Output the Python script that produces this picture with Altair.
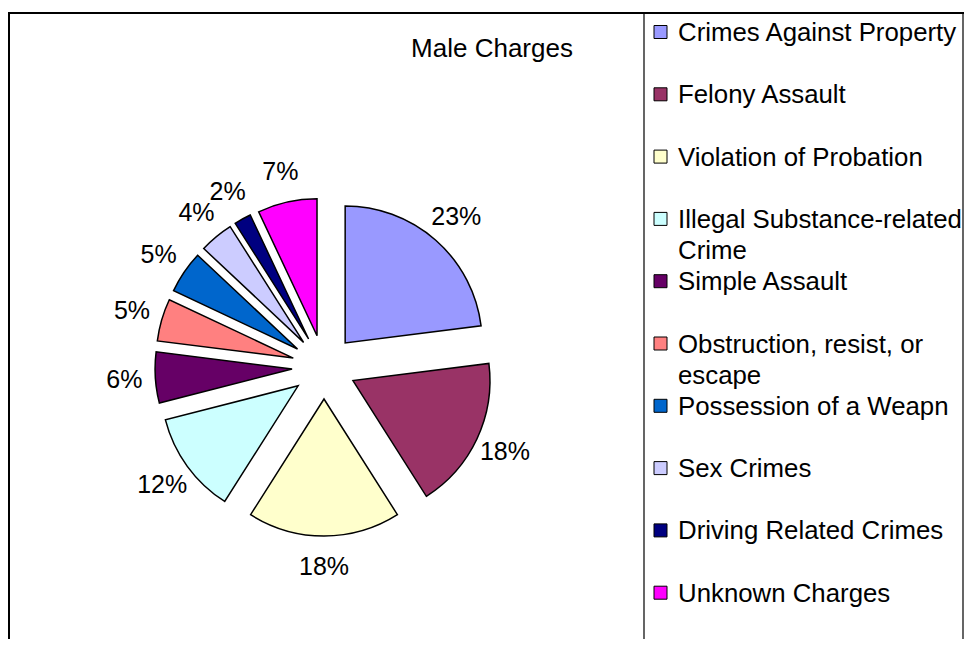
import altair as alt
import pandas as pd

# ---- data ----
categories = [
    "Crimes Against Property",
    "Felony Assault",
    "Violation of Probation",
    "Illegal Substance-related Crime",
    "Simple Assault",
    "Obstruction, resist, or escape",
    "Possession of a Weapn",
    "Sex Crimes",
    "Driving Related Crimes",
    "Unknown Charges",
]
legend_labels = [
    "Crimes Against Property",
    "Felony Assault",
    "Violation of Probation",
    "Illegal Substance-related\nCrime",
    "Simple Assault",
    "Obstruction, resist, or\nescape",
    "Possession of a Weapn",
    "Sex Crimes",
    "Driving Related Crimes",
    "Unknown Charges",
]
values = [23, 18, 18, 12, 6, 5, 5, 4, 2, 7]
colors = ["#9999FF", "#993366", "#FFFFCC", "#CCFFFF", "#660066",
          "#FF8080", "#0066CC", "#CCCCFF", "#000080", "#FF00FF"]
title_text = "Male Charges"

# ---- layout constants (chart coordinates) ----
W, H = 956, 631
CX, CY = 316, 359
EXPLODE = 32
RADIUS = 137
LABEL_R = 200
FONT = "Liberation Sans"

color_scale = alt.Scale(domain=categories, range=colors)

pie_df = pd.DataFrame({"category": categories, "value": values, "idx": list(range(len(values)))})

base = (
    alt.Chart(pie_df)
    .transform_window(cum="sum(value)", sort=[alt.SortField("idx")])
    .transform_joinaggregate(total="sum(value)")
    .transform_calculate(
        mid="(datum.cum - datum.value/2) / datum.total * 2 * PI",
        ex=f"{CX} + {EXPLODE} * sin(datum.mid)",
        ey=f"{CY} - {EXPLODE} * cos(datum.mid)",
        lx=f"{CX} + {LABEL_R} * sin(datum.mid)",
        ly=f"{CY} - {LABEL_R} * cos(datum.mid)",
        lbl="datum.value + '%'",
    )
)

arcs = base.mark_arc(outerRadius=RADIUS, stroke="black", strokeWidth=1.5).encode(
    theta=alt.Theta("value:Q", stack=True),
    order=alt.Order("idx:Q"),
    color=alt.Color("category:N", scale=color_scale, legend=None),
    x=alt.X("ex:Q", scale=None),
    y=alt.Y("ey:Q", scale=None),
)

labels = base.mark_text(fontSize=25, font=FONT, color="black", baseline="middle", align="center").encode(
    x=alt.X("lx:Q", scale=None),
    y=alt.Y("ly:Q", scale=None),
    text="lbl:N",
)

# ---- legend (manual) ----
leg_df = pd.DataFrame({"category": categories, "label": legend_labels, "idx": list(range(len(categories)))})
leg_base = alt.Chart(leg_df).transform_calculate(
    cy="24 + datum.idx * 62.3",
    sy1="datum.cy - 6.5",
    sy2="datum.cy + 6.5",
    ty="datum.cy + 9",
)
leg_sym = leg_base.mark_rect(stroke="black", strokeWidth=1).encode(
    x=alt.value(646),
    x2=alt.value(659),
    y=alt.Y("sy1:Q", scale=None),
    y2="sy2:Q",
    color=alt.Color("category:N", scale=color_scale, legend=None),
)
leg_txt = leg_base.mark_text(
    align="left", baseline="alphabetic", fontSize=25.8, font=FONT,
    lineBreak="\n", lineHeight=31, color="black",
).encode(
    x=alt.value(670),
    y=alt.Y("ty:Q", scale=None),
    text="label:N",
)

one = alt.Data(values=[{"t": title_text}])
title = alt.Chart(one).mark_text(fontSize=26, font=FONT, align="center", baseline="alphabetic", color="black").encode(
    x=alt.value(484), y=alt.value(49), text="t:N"
)

outer = alt.Chart(alt.Data(values=[{}])).mark_rect(filled=False, stroke="black", strokeWidth=2).encode(
    x=alt.value(1), x2=alt.value(990), y=alt.value(5), y2=alt.value(700)
)
legend_box = alt.Chart(alt.Data(values=[{}])).mark_rect(filled=False, stroke="black", strokeWidth=1.2).encode(
    x=alt.value(636), x2=alt.value(955), y=alt.value(5), y2=alt.value(700)
)

chart = (
    alt.layer(outer, legend_box, arcs, labels, leg_sym, leg_txt, title)
    .properties(width=W, height=H, autosize=alt.AutoSizeParams(type="none"), padding=0, background="white")
    .configure_view(stroke=None)
)

chart.save("out.html", embed_options={"renderer": "svg", "actions": False})
